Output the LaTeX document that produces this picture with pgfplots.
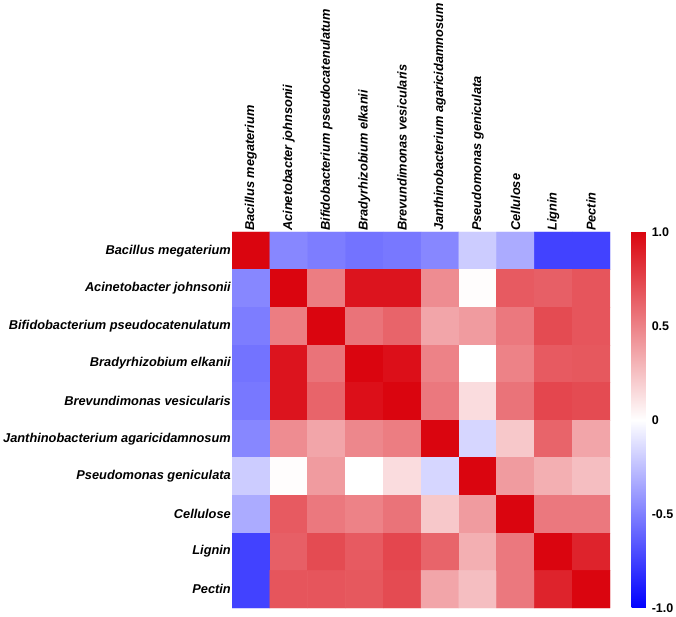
\documentclass[border=0pt]{standalone}
\usepackage{fontspec}
\setmainfont{Liberation Sans}
\usepackage{pgfplots}
\pgfplotsset{compat=1.18}

\pgfplotsset{
  colormap={bwr}{rgb255=(0,0,255) rgb255=(255,255,255) rgb255=(218,5,15)},
}

\begin{document}
\begin{tikzpicture}
\path[use as bounding box] (0,0) rectangle (676pt,617pt);
\begin{axis}[
  at={(232pt,9pt)}, anchor=south west,
  scale only axis, width=378pt, height=376pt,
  colormap name=bwr,
  point meta min=-1, point meta max=1,
  xmin=-0.5, xmax=9.5, ymin=-0.5, ymax=9.5,
  y dir=reverse,
  axis line style={draw=none},
  major tick length=0pt,
  xtick={0,...,9}, ytick={0,...,9},
  xticklabel pos=right,
  xticklabels={Bacillus megaterium, Acinetobacter johnsonii, Bifidobacterium pseudocatenulatum, Bradyrhizobium elkanii, Brevundimonas vesicularis, Janthinobacterium agaricidamnosum, Pseudomonas geniculata, Cellulose, Lignin, Pectin},
  yticklabels={Bacillus megaterium, Acinetobacter johnsonii, Bifidobacterium pseudocatenulatum, Bradyrhizobium elkanii, Brevundimonas vesicularis, Janthinobacterium agaricidamnosum, Pseudomonas geniculata, Cellulose, Lignin, Pectin},
  ticklabel style={font=\fontsize{12.8}{15}\selectfont\bfseries\itshape},
  xticklabel style={rotate=90, anchor=west, inner sep=1pt},
  yticklabel style={anchor=east, inner sep=1pt},
  colorbar right,
  colorbar style={
    at={(parent axis.north east)}, anchor=north west, xshift=13pt,
    width=20pt,
    axis line style={draw=none},
    major tick length=0pt,
    ytick={-1,-0.5,0,0.5,1},
    yticklabels={-1.0,-0.5,0,0.5,1.0},
    yticklabel style={font=\fontsize{12.5}{15}\selectfont\bfseries, anchor=west, inner sep=0pt, xshift=0pt},
  },
]
\addplot[matrix plot*, mesh/cols=10, point meta=explicit] table [meta=c] {
x y c
0 0 1
1 0 -0.47
2 0 -0.51
3 0 -0.55
4 0 -0.53
5 0 -0.47
6 0 -0.20
7 0 -0.33
8 0 -0.74
9 0 -0.74
0 1 -0.47
1 1 1
2 1 0.52
3 1 0.94
4 1 0.94
5 1 0.46
6 1 0.01
7 1 0.66
8 1 0.64
9 1 0.68
0 2 -0.51
1 2 0.52
2 2 1
3 2 0.56
4 2 0.62
5 2 0.36
6 2 0.40
7 2 0.54
8 2 0.72
9 2 0.68
0 3 -0.55
1 3 0.94
2 3 0.56
3 3 1
4 3 0.96
5 3 0.50
6 3 0.00
7 3 0.50
8 3 0.66
9 3 0.67
0 4 -0.53
1 4 0.94
2 4 0.62
3 4 0.96
4 4 1
5 4 0.54
6 4 0.14
7 4 0.56
8 4 0.74
9 4 0.72
0 5 -0.47
1 5 0.46
2 5 0.36
3 5 0.48
4 5 0.52
5 5 1
6 5 -0.16
7 5 0.22
8 5 0.62
9 5 0.36
0 6 -0.20
1 6 0.01
2 6 0.40
3 6 0.00
4 6 0.14
5 6 -0.16
6 6 1
7 6 0.40
8 6 0.32
9 6 0.26
0 7 -0.33
1 7 0.66
2 7 0.54
3 7 0.50
4 7 0.56
5 7 0.22
6 7 0.40
7 7 1
8 7 0.54
9 7 0.54
0 8 -0.74
1 8 0.64
2 8 0.72
3 8 0.66
4 8 0.74
5 8 0.62
6 8 0.32
7 8 0.54
8 8 1
9 8 0.88
0 9 -0.74
1 9 0.68
2 9 0.68
3 9 0.67
4 9 0.72
5 9 0.36
6 9 0.26
7 9 0.54
8 9 0.88
9 9 1
};
\end{axis}
\end{tikzpicture}
\end{document}
